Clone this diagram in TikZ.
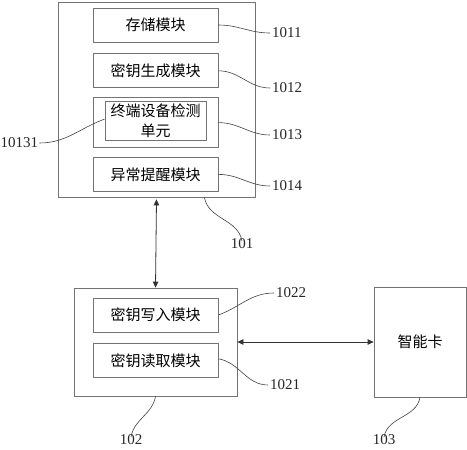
\documentclass[tikz,border=0pt]{standalone}
\usepackage{fontspec}
\setmainfont{Liberation Serif}
\newfontfamily\cjk{Noto Sans CJK SC}
\usetikzlibrary{positioning}
\usetikzlibrary{arrows.meta}
\tikzset{outerbox/.style={rectangle, draw=black!55, line width=0.8pt, inner sep=0pt},
         modbox/.style={rectangle, draw=black!55, line width=0.8pt, inner sep=0pt, minimum width=125pt, minimum height=34pt, font=\cjk\fontsize{15}{20}\selectfont},
         numlabel/.style={inner sep=0pt, font=\fontsize{15}{18}\selectfont, text=black!85},
         leader/.style={draw=black!75, line width=0.6pt},
         dblarrow/.style={{Triangle[length=6pt,width=5.5pt]}-{Triangle[length=6pt,width=5.5pt]}, draw=black!80, line width=0.8pt}}

\begin{document}
\begin{tikzpicture}[x=1pt, y=-1pt]
    \useasboundingbox (0,0) rectangle (467,450);

    % terminal side
    \node[outerbox, minimum width=197pt, minimum height=195pt] (box101) at (156.5,99.5) {};
    \node[modbox]    (storage)                                  at (155.5,25)   {存储模块};
    \node[modbox]    (keygen)      [below=11pt of storage]                      {密钥生成模块};
    \node[modbox, minimum height=50pt] (detectouter) [below=9pt of keygen]      {};
    \node[modbox, minimum width=101pt, minimum height=39pt, align=center] (detect) at ([yshift=1.5pt]detectouter.center) {终端设备检测\\单元};
    \node[modbox]    (alarm)       [below=9pt of detectouter]                   {异常提醒模块};

    % reader side
    \node[outerbox, minimum width=163pt, minimum height=108pt] (box102) at (155.5,342) {};
    \node[modbox]    (write)                                    at (155.5,315)  {密钥写入模块};
    \node[modbox]    (read)        [below=11pt of write]                        {密钥读取模块};

    \node[outerbox, minimum width=92pt, minimum height=110pt, font=\cjk\fontsize{15}{20}\selectfont] (card) at (420,342) {智能卡};

    % reference numbers
    \node[numlabel, anchor=west] (n1011)  at (272,33)  {1011};
    \node[numlabel, anchor=west] (n1012)  at (272,88)  {1012};
    \node[numlabel, anchor=west] (n1013)  at (272,135) {1013};
    \node[numlabel, anchor=west] (n1014)  at (272,186) {1014};
    \node[numlabel, anchor=west] (n10131) at (0.5,143) {10131};
    \node[numlabel, anchor=north] (n101)  at (242,238) {101};
    \node[numlabel, anchor=west] (n1022)  at (276,293) {1022};
    \node[numlabel, anchor=west] (n1021)  at (270,385) {1021};
    \node[numlabel, anchor=north] (n102)  at (131,434) {102};
    \node[numlabel, anchor=north] (n103)  at (384,434) {103};

    % connections
    \draw[dblarrow] ([yshift=-2pt]box101.south) -- (box102.north);
    \draw[dblarrow] (box102.east) -- (card.west);

    % leaders
    \draw[leader] (storage.east) to[out=0, in=180] ([xshift=-2pt]n1011.west);
    \draw[leader] (keygen.east) to[out=0, in=180] ([xshift=-2pt]n1012.west);
    \draw[leader] (detectouter.east) to[out=0, in=180] ([xshift=-2pt]n1013.west);
    \draw[leader] (alarm.east) to[out=0, in=180] ([xshift=-2pt]n1014.west);
    \draw[leader] ([xshift=1pt]n10131.east) to[out=0, in=200] ([yshift=2pt]detect.west);
    \draw[leader] ([xshift=-51pt]box101.south east) to[out=-80, in=100] ([yshift=-3pt]n101.north);
    \draw[leader] (write.east) to[out=20, in=180] ([xshift=-2pt]n1022.west);
    \draw[leader] ([yshift=2pt]read.east) to[out=-10, in=180] ([xshift=-2pt]n1021.west);
    \draw[leader] (box102.south) to[out=-100, in=80] ([yshift=-3pt]n102.north);
    \draw[leader] (card.south) to[out=-100, in=80] ([yshift=-3pt]n103.north);
\end{tikzpicture}
\end{document}
